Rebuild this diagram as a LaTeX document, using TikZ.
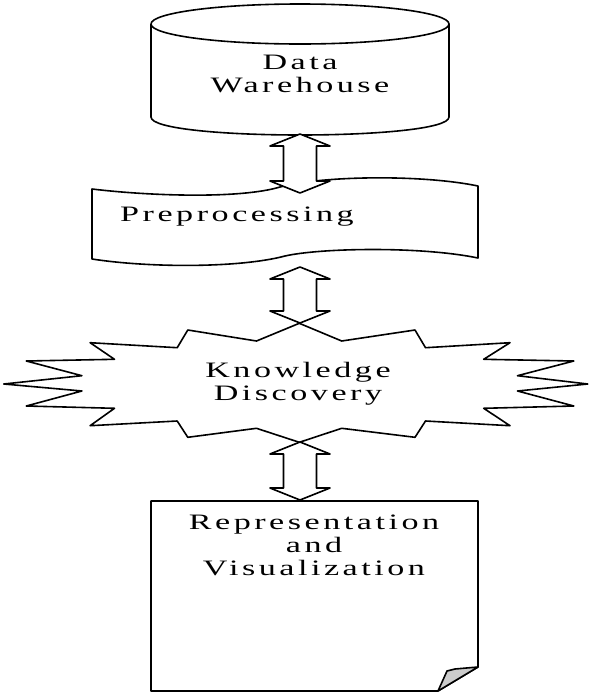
\documentclass[tikz,border=0pt]{standalone}
\usepackage{fontspec}
\usetikzlibrary{calc}
\newfontfamily\lblfont[FakeStretch=1.55,LetterSpace=16]{Liberation Serif}

\tikzset{
  lbl/.style={font=\lblfont\fontsize{22}{23}\selectfont,align=center,inner sep=0pt},
  fatarrow/.style={fill=white,to path={let \p1=(\tikztostart), \p2=(\tikztotarget) in
    (\x1,\y1) -- (\x1+30pt,\y1-12pt) -- (\x1+16.5pt,\y1-12pt) -- (\x1+16.5pt,\y2+12pt)
    -- (\x1+30pt,\y2+12pt) -- (\x2,\y2) -- (\x1-30pt,\y2+12pt) -- (\x1-16.5pt,\y2+12pt)
    -- (\x1-16.5pt,\y1-12pt) -- (\x1-30pt,\y1-12pt) -- cycle}}
}

\begin{document}
\begin{tikzpicture}[x=1pt,y=-1pt,line width=1.6pt,line join=round]
  \useasboundingbox (0,0) rectangle (589,694);

  % data warehouse (cylinder)
  \draw[fill=white] (151,24) -- (151,117) .. controls (151,141) and (449,141) .. (449,117) -- (449,24);
  \draw (300,24) ellipse [x radius=149, y radius=20];
  \node[lbl] (dw) at (300,74) {Data\\Warehouse};

  % preprocessing (tape)
  \draw (92,189) .. controls (150,196) and (240,199) .. (280,187)
        .. controls (320,176) and (420,174) .. (478,186) -- (478,258)
        .. controls (420,246) and (320,248) .. (285,256)
        .. controls (240,268) and (150,268) .. (92,259) -- cycle;
  \node[lbl] (pre) at (237,217) {Preprocessing};

  % knowledge discovery (star)
  \draw (299.3,323.3) -- (341.7,341) -- (415,330) -- (425.5,347.7) -- (510,342.7)
        -- (483.7,359.3) -- (573.8,361) -- (517.5,375.7) -- (587.7,384)
        -- (517.5,391) -- (573.8,406) -- (483.7,408.3) -- (510,425.7)
        -- (425.5,421) -- (415,437.3) -- (341.7,428.3) -- (299.3,442.3)
        -- (256.5,428.3) -- (187.8,437.3) -- (177.2,421) -- (90.1,425.7)
        -- (114.5,408.3) -- (26.3,406) -- (81.9,391) -- (3.8,384)
        -- (81.9,375.7) -- (26.3,361) -- (114.5,359.3) -- (90.1,342.7)
        -- (177.2,347.7) -- (187.8,330) -- (256.5,341) -- cycle;
  \node[lbl] (kd) at (298,384) {Knowledge\\Discovery};

  % representation (document)
  \draw (151,501) -- (478,501) -- (478,667) -- (438,691) -- (151,691) -- cycle;
  \draw[fill=gray!40] (438,691) -- (447,671) -- (455,669) -- (478,667) -- cycle;
  \node[lbl] (rv) at (314,545) {Representation\\and\\Visualization};

  % arrow ends
  \coordinate (dw-s) at (300,134);
  \coordinate (pre-n) at (300,193);
  \coordinate (pre-s) at (300,267);
  \coordinate (kd-n) at (300,323);
  \coordinate (kd-s) at (300,442);
  \coordinate (rv-n) at (300,500);

  \draw[fatarrow] (dw-s) to (pre-n);
  \draw[fatarrow] (pre-s) to (kd-n);
  \draw[fatarrow] (kd-s) to (rv-n);
\end{tikzpicture}
\end{document}
